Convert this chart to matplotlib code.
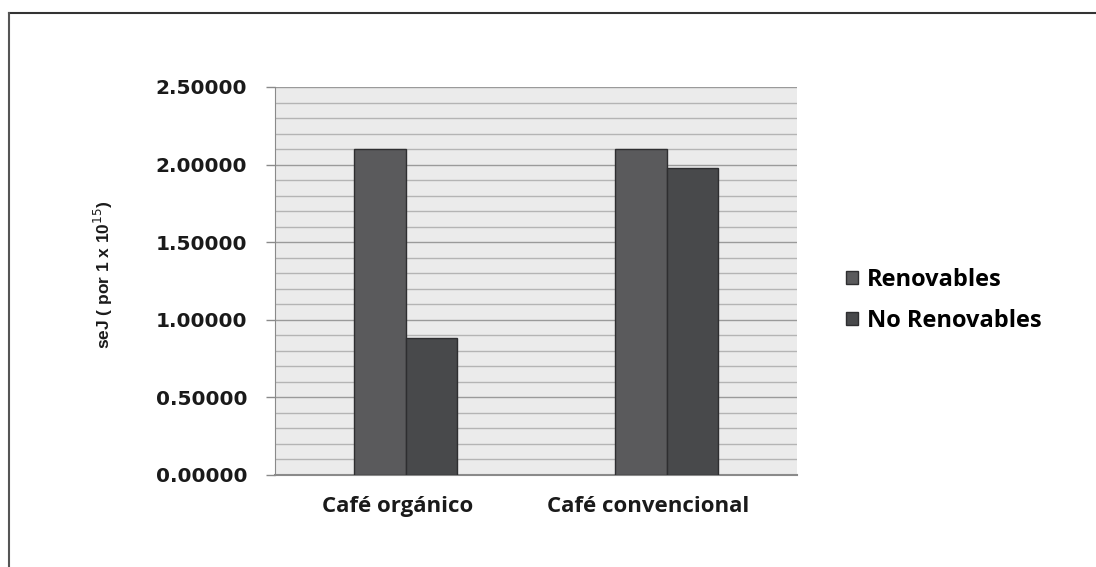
import matplotlib
matplotlib.use("Agg")
import matplotlib.pyplot as plt
import matplotlib.transforms as mtransforms
import numpy as np
from matplotlib.lines import Line2D

categories = ["Café orgánico", "Café convencional"]
renovables = [2.10, 2.10]
no_renovables = [0.88, 1.98]
series_names = ["Renovables", "No Renovables"]
yticks = [0.0, 0.5, 1.0, 1.5, 2.0, 2.5]

fig = plt.figure(figsize=(10.96, 5.67), dpi=100)
ax = fig.add_axes([275/1096, 1-475/567, 522/1096, 388/567])
ax.set_facecolor("#ebebeb")

x = np.arange(len(categories))
w = 0.196
ax.bar(x - w/2, renovables, w, color="#5a5a5c", edgecolor="#2e2e30", linewidth=1.0, label=series_names[0], zorder=3)
ax.bar(x + w/2, no_renovables, w, color="#48494b", edgecolor="#2e2e30", linewidth=1.0, label=series_names[1], zorder=3)

ax.set_xlim(-0.5, 1.5)
ax.set_ylim(0, 2.5)
ax.set_yticks(yticks)
ax.set_yticklabels([f"{v:.5f}" for v in yticks], fontfamily="DejaVu Sans", fontweight="bold", fontsize=14.5, color="#1a1a1a")
ax.set_yticks(np.arange(0, 2.51, 0.1), minor=True)
ax.grid(True, axis="y", which="minor", color="#b4b4b4", linewidth=1.0, zorder=0)
ax.grid(True, axis="y", which="major", color="#9a9a9a", linewidth=1.0, zorder=0)
ax.tick_params(axis="y", which="major", length=6.5, color="#8a8a8a", pad=13.5, width=1.0)
ax.tick_params(axis="y", which="minor", length=0)
ax.set_xticks(x)
ax.set_xticklabels(categories, fontfamily="Open Sans", fontweight="bold", fontsize=16, color="#1a1a1a")
ax.tick_params(axis="x", length=0, pad=15)
for lbl, dx in zip(ax.get_xticklabels(), [-8, -18]):
    lbl.set_transform(lbl.get_transform() + mtransforms.ScaledTranslation(dx/100, 0, fig.dpi_scale_trans))

for s in ["top", "right"]:
    ax.spines[s].set_visible(False)
ax.spines["left"].set_color("#8a8a8a")
ax.spines["bottom"].set_color("#8a8a8a")
ax.spines["bottom"].set_linewidth(1.5)

fig.text(103/1096, 1-275/567, "seJ ( por 1 x 10$^{15}$)", rotation=90, ha="center", va="center",
         fontfamily="Liberation Sans", fontweight="bold", fontsize=12.5, color="#1a1a1a",
         fontstretch="condensed")

leg = ax.legend(loc="center left", bbox_to_anchor=(1.054, 0.45), frameon=False,
                prop={"family": "Open Sans", "weight": "bold", "size": 17},
                handlelength=0.5, handleheight=0.5, handletextpad=0.35, labelspacing=0.7)

# figure border lines (top and left)
fig.add_artist(Line2D([9/1096, 1], [1-13/567, 1-13/567], transform=fig.transFigure, color="#333333", linewidth=1.5))
fig.add_artist(Line2D([9/1096, 9/1096], [0, 1-13/567], transform=fig.transFigure, color="#555555", linewidth=1.5))

fig.savefig("out.png", dpi=100)
